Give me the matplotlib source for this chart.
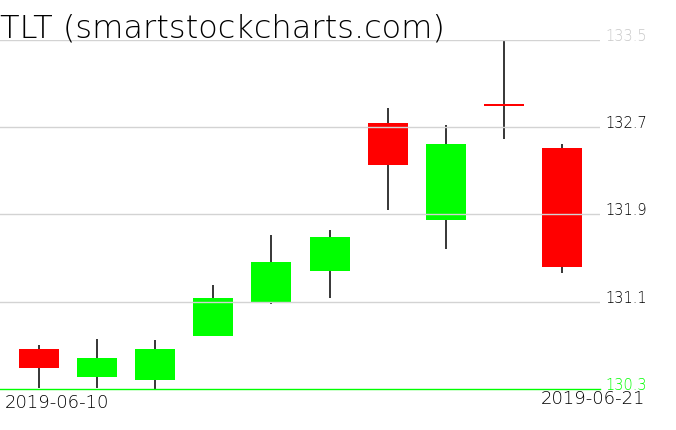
import matplotlib
matplotlib.use("Agg")
import matplotlib.pyplot as plt
from matplotlib.patches import Rectangle

# ---- data ----
dates = ["2019-06-10", "2019-06-11", "2019-06-12", "2019-06-13", "2019-06-14",
         "2019-06-17", "2019-06-18", "2019-06-19", "2019-06-20", "2019-06-21"]
opens  = [130.67, 130.41, 130.38, 130.79, 131.09, 131.38, 132.74, 131.85, 132.91, 132.51]
highs  = [130.70, 130.76, 130.75, 131.25, 131.71, 131.76, 132.87, 132.72, 133.50, 132.54]
lows   = [130.31, 130.31, 130.30, 130.79, 131.08, 131.13, 131.94, 131.58, 132.59, 131.36]
closes = [130.49, 130.58, 130.67, 131.13, 131.46, 131.69, 132.35, 132.54, 132.89, 131.42]
ytick_values = [130.3, 131.1, 131.9, 132.7, 133.5]
ytick_labels = ["130.3", "131.1", "131.9", "132.7", "133.5"]
ytick_colors = ["#00ff00", "black", "black", "black", "#c8c8c8"]
title = "TLT (smartstockcharts.com)"

W, H = 676, 431
fig = plt.figure(figsize=(W / 100, H / 100), dpi=100)
fig.patch.set_facecolor("white")

ax_left, ax_right = 0, 600
ax_top, ax_bot = 40.7, 390
ax = fig.add_axes([ax_left / W, 1 - ax_bot / H, (ax_right - ax_left) / W, (ax_bot - ax_top) / H])
ax.set_facecolor("white")

step = 58.11
x0 = 39
ax.set_xlim(-x0 / step, (ax_right - x0) / step)
ax.set_ylim(ytick_values[0], ytick_values[-1])

font = dict(family=["DejaVu Sans"], weight="light")

body_w = 40 / step
for i in range(len(dates)):
    o, h, l, c = opens[i], highs[i], lows[i], closes[i]
    ax.plot([i, i], [l, h], color="black", lw=1.1, zorder=2, clip_on=False,
            solid_capstyle="butt")
    color = "#00ff00" if c >= o else "#ff0000"
    bottom = min(o, c)
    height = max(abs(c - o), 0.025)
    ax.add_patch(Rectangle((i - body_w / 2, bottom), body_w, height,
                           facecolor=color, edgecolor="none", zorder=3, clip_on=False))

# grid lines (on top of bodies)
for v in ytick_values[1:]:
    ax.axhline(v, color="#d3d3d3", lw=1.0, zorder=4)
ax.axhline(ytick_values[0], color="#00ff00", lw=1.0, zorder=5, clip_on=False)

for s in ax.spines.values():
    s.set_visible(False)
ax.set_xticks([])
ax.yaxis.tick_right()
ax.set_yticks(ytick_values)
ax.set_yticklabels(ytick_labels)
ax.tick_params(axis="y", length=0, pad=4)
for lab, col in zip(ax.get_yticklabels(), ytick_colors):
    lab.set_color(col)
    lab.set_fontsize(10.5)
    lab.set_fontfamily(["DejaVu Sans"])
    lab.set_fontweight("light")
    lab.set_verticalalignment("baseline")

# date labels
ax.text(5 / 600, -4 / 349.3, dates[0], transform=ax.transAxes, ha="left", va="top",
        fontsize=13, color="black", **font)
ax.text(645 / 600, 0.0, dates[-1], transform=ax.transAxes, ha="right", va="top",
        fontsize=13, color="black", zorder=1, **font)

fig.text(0.0, 1 - 38 / H, title, ha="left", va="baseline", fontsize=23,
         color="black", **font)

fig.savefig("out.png", dpi=100, facecolor="white")
